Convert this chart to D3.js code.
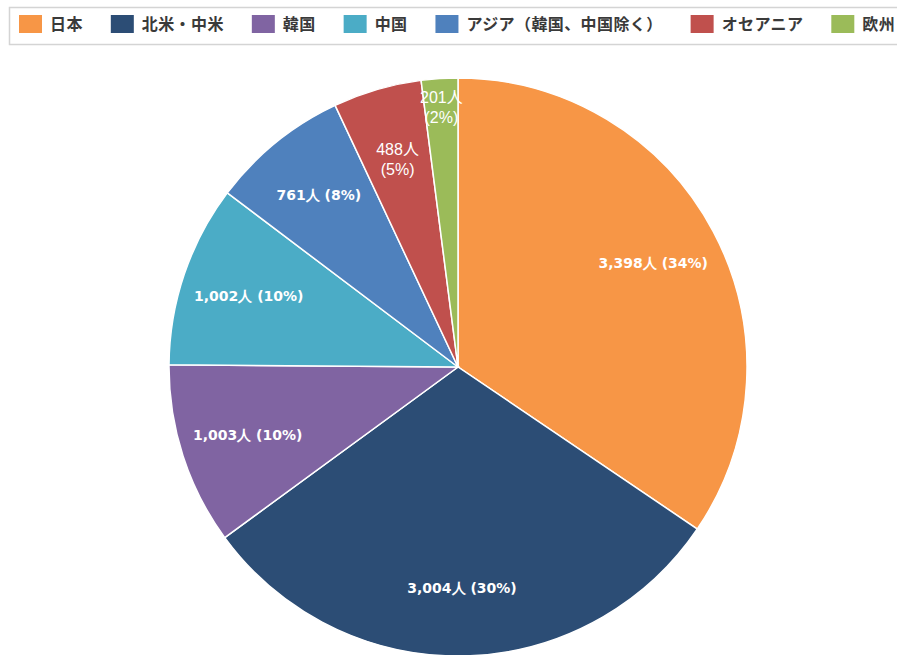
<!DOCTYPE html>
<html><head><meta charset="utf-8">
<script src="https://cdn.jsdelivr.net/npm/d3@7"></script>
<style>
html,body{margin:0;padding:0;background:#fff;overflow:hidden;}
svg{display:block;}
</style></head>
<body>
<svg id="chart" width="897" height="655"></svg>
<script>
const categories = ["日本", "北米・中米", "韓国", "中国", "アジア（韓国、中国除く）", "オセアニア", "欧州"];
const values = [3398, 3004, 1003, 1002, 761, 488, 201];
const colors = ["#F79646", "#2C4D75", "#8064A2", "#4BACC6", "#4F81BD", "#C0504D", "#9BBB59"];

const svg = d3.select("#chart");
const cx = 458, cy = 367, R = 289;

// Legend
const legend = svg.append("g");
legend.append("rect").attr("x", 9.5).attr("y", 7.5).attr("width", 1000).attr("height", 37)
  .attr("fill", "#fff").attr("stroke", "#d4d4d4").attr("stroke-width", 1.5);
let lx = 19;
categories.forEach((c, i) => {
  legend.append("rect").attr("x", lx).attr("y", 15).attr("width", 23).attr("height", 18).attr("fill", colors[i]);
  const t = legend.append("text").attr("x", lx + 31).attr("y", 24).attr("dy", "0.36em")
    .attr("font-family", "'Noto Sans CJK JP', sans-serif").attr("font-weight", "bold")
    .attr("letter-spacing", 0.4)
    .attr("font-size", 16).attr("fill", "#3a3a3a").text(c);
  lx += 31 + t.node().getComputedTextLength() + 28;
});

// Pie
const total = d3.sum(values);
const pie = d3.pie().sort(null).value(d => d.v).startAngle(0).endAngle(2 * Math.PI);
const data = pie(categories.map((c, i) => ({ c, v: values[i], i })));
const arc = d3.arc().innerRadius(0).outerRadius(R);
const g = svg.append("g").attr("transform", `translate(${cx},${cy})`);
g.selectAll("path").data(data).join("path")
  .attr("d", arc).attr("fill", d => colors[d.data.i])
  .attr("stroke", "#fff").attr("stroke-width", 1.5);

const fmt = d3.format(",");
const smallLabelRadius = { "オセアニア": 216, "欧州": 260 };
data.forEach(d => {
  const pct = Math.round(d.data.v / total * 100);
  const small = smallLabelRadius[d.data.c] !== undefined;
  const lr = small ? smallLabelRadius[d.data.c] : 221;
  const la = d3.arc().innerRadius(lr).outerRadius(lr);
  const [x, y] = la.centroid(d);
  if (!small) {
    g.append("text").attr("x", x).attr("y", y).attr("dy", "0.35em").attr("text-anchor", "middle")
      .attr("font-family", "Verdana, 'DejaVu Sans', sans-serif").attr("font-weight", "bold")
      .attr("font-size", 14).attr("fill", "#fff")
      .text(`${fmt(d.data.v)}人 (${pct}%)`);
  } else {
    [`${fmt(d.data.v)}人`, `(${pct}%)`].forEach((line, k) => {
      g.append("text").attr("x", x).attr("y", y - 10 + 20 * k).attr("dy", "0.35em").attr("text-anchor", "middle")
        .attr("font-family", "'Liberation Sans', 'Noto Sans CJK JP', sans-serif")
        .attr("font-size", 16).attr("fill", "#fff").text(line);
    });
  }
});
</script>
</body></html>
